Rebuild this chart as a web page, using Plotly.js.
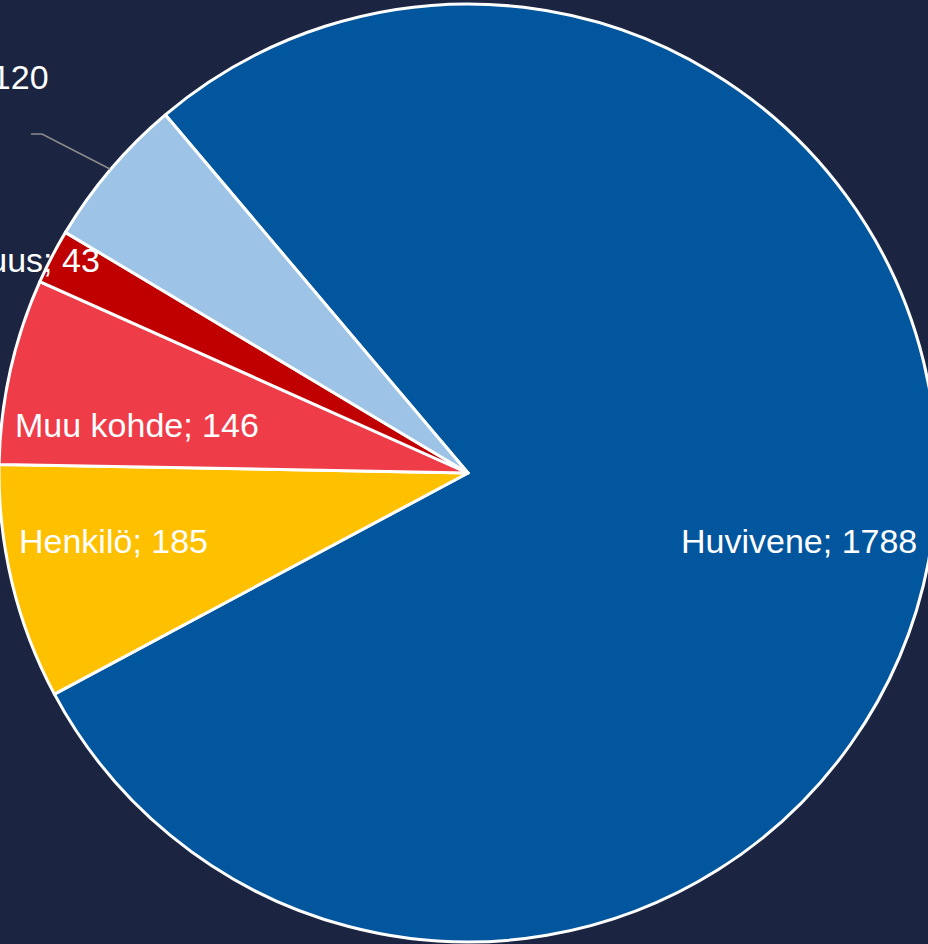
<!DOCTYPE html>
<html>
<head>
<meta charset="utf-8">
<script src="https://cdn.plot.ly/plotly-3.0.1.min.js"></script>
<style>
html,body{margin:0;padding:0;width:928px;height:944px;overflow:hidden;background:#1B2541;}
#chart{position:absolute;left:-1px;top:0;width:938px;height:946px;}
</style>
</head>
<body>
<div id="chart"></div>
<script>
const categories = ["Huvivene", "Henkilö", "Muu kohde", "Ympäristöturvallisuus", "Ammattiliikenne"];
const values = [1788, 185, 146, 43, 120];
const colors = ["#02569E", "#FFC000", "#EF3C49", "#C00000", "#9DC3E6"];

const W = 938, H = 946, LEFT = -1;
function px(x){ return (x - LEFT) / W; }
function py(y){ return 1 - y / H; }

// label anchor positions (page pixels) and alignment
const labelPos = [
  {x: 799, y: 541, anchor: "center"},
  {x: 17, y: 541, anchor: "left"},
  {x: 13, y: 425, anchor: "left"},
  {x: 102, y: 260, anchor: "right"},
  {x: 51, y: 77, anchor: "right"}
];

const annotations = categories.map((c, i) => ({
  xref: "paper", yref: "paper",
  x: px(labelPos[i].x), y: py(labelPos[i].y),
  xanchor: labelPos[i].anchor, yanchor: "middle",
  text: c + "; " + values[i],
  showarrow: false,
  font: {family: "Liberation Sans Narrow, Arial Narrow, Liberation Sans, Arial, sans-serif", size: 34, color: "#FFFFFF"}
}));

const data = [{
  type: "pie",
  labels: categories,
  values: values,
  sort: false,
  direction: "clockwise",
  rotation: -40.2,
  marker: {colors: colors, line: {color: "#FFFFFF", width: 3}},
  textinfo: "none",
  hoverinfo: "skip",
  showlegend: false,
  domain: {x: [0, 1], y: [0, 1]}
}];

const layout = {
  width: W, height: H,
  margin: {l: 0, r: 0, t: 0, b: 0},
  paper_bgcolor: "#1B2541",
  plot_bgcolor: "#1B2541",
  showlegend: false,
  annotations: annotations,
  shapes: [{
    type: "path", xref: "paper", yref: "paper",
    path: "M " + px(31) + "," + py(134) + " L " + px(42) + "," + py(134) + " L " + px(110) + "," + py(169),
    line: {color: "#8C8C8C", width: 1.5}
  }]
};

Plotly.newPlot("chart", data, layout, {staticPlot: true, displayModeBar: false});
</script>
</body>
</html>
